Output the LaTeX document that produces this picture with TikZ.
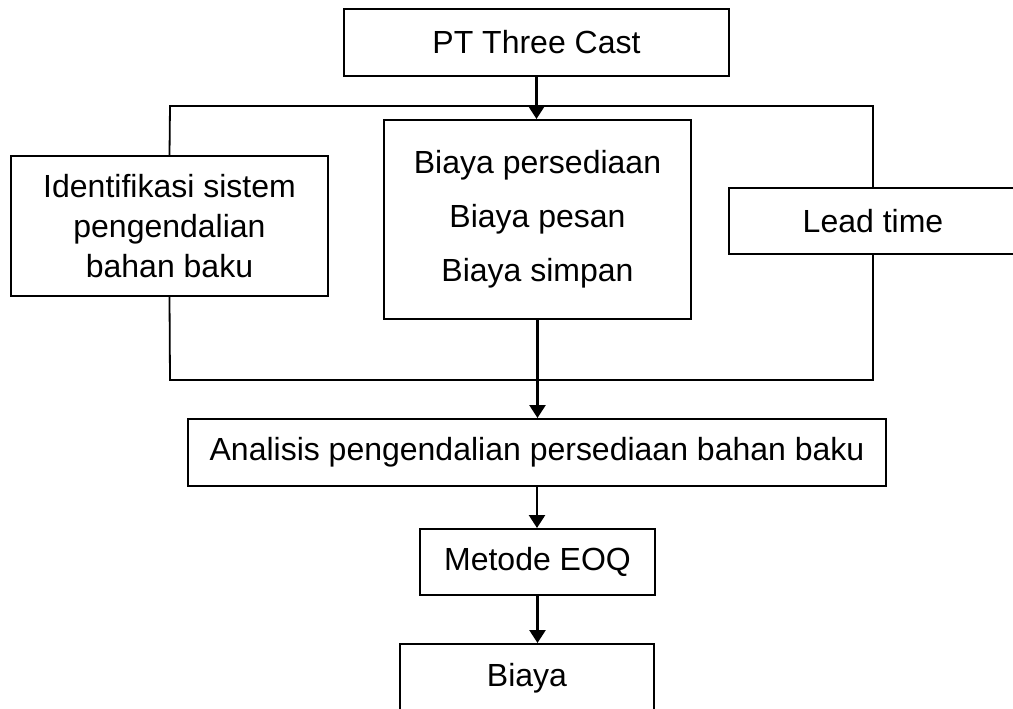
\documentclass[tikz,border=0pt]{standalone}
\usepackage{fontspec}
\setmainfont{Liberation Sans}
\usepackage{tikz}
\usetikzlibrary{positioning,arrows.meta}

\begin{document}
\begin{tikzpicture}[
    x=0.5pt, y=-0.5pt,
    font=\fontsize{16}{20}\selectfont,
    flowbox/.style={rectangle, draw=black, line width=1pt, inner sep=0pt, align=center},
    flowarrow/.style={-{Triangle[length=6.5pt,width=8pt]}, line width=1.3pt},
    bracketline/.style={draw=black, line width=0.9pt}
    ]
        \useasboundingbox (0,0) rectangle (1013,708);
        %Nodes
        \node[flowbox, minimum width=192.5pt, minimum height=33.5pt]
            (pt)        at (536.5,42.5)   {PT Three Cast};
        \node[flowbox, minimum width=158.5pt, minimum height=70pt]
            (ident)     at (169.5,226)    {Identifikasi sistem\\pengendalian\\bahan baku};
        \node[flowbox, minimum width=153.5pt, minimum height=99.5pt]
            (biayainv)  at (537.5,219.5)  {Biaya persediaan\\[7pt]Biaya pesan\\[7pt]Biaya simpan};
        \node[flowbox, minimum width=144pt, minimum height=33pt]
            (lead)      at (873,221)      {Lead time};
        \node[flowbox, minimum width=349pt, minimum height=33.5pt]
            (analisis)  at (537,452.5)    {Analisis pengendalian persediaan bahan baku};
        \node[flowbox, minimum width=117.5pt, minimum height=33pt]
            (eoq)       at (537.5,562)    {Metode EOQ};
        \node[flowbox, minimum width=127pt, minimum height=34pt]
            (biaya)     at (527,678)      {Biaya};

        %Bracket
        \coordinate (topleft)  at (170,106);
        \coordinate (topright) at (873,106);
        \coordinate (botleft)  at (170,380);
        \coordinate (botright) at (873,380);
        \draw[bracketline] (ident.north) -- (topleft) -- (topright) -- (lead.north);
        \draw[bracketline] (ident.south) -- (botleft) -- (botright) -- (lead.south);

        %Lines
        \draw[flowarrow]
            (pt.south) -- (pt.south |- biayainv.north);
        \draw[flowarrow]
            (biayainv.south) -- (biayainv.south |- analisis.north);
        \draw[flowarrow]
            (analisis.south) -- (analisis.south |- eoq.north);
        \draw[flowarrow]
            (eoq.south) -- (eoq.south |- biaya.north);
    \end{tikzpicture}
\end{document}
